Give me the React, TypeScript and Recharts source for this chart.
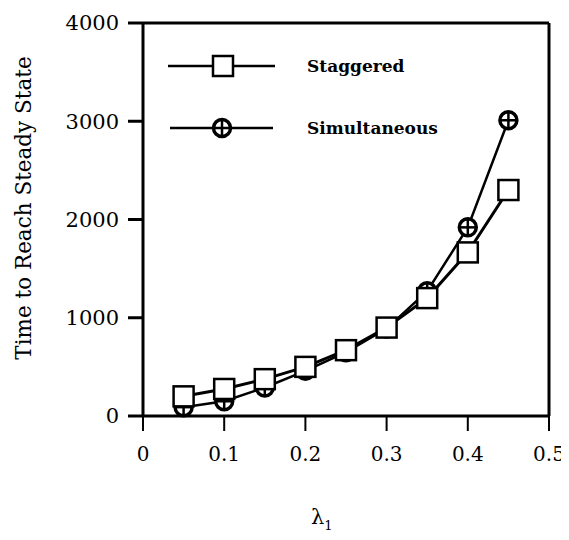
import React from 'react';
import { ComposedChart, Line, XAxis, YAxis, ReferenceLine, Customized } from 'recharts';

const lambdaValues = [0.05, 0.1, 0.15, 0.2, 0.25, 0.3, 0.35, 0.4, 0.45];
const staggered = [200, 275, 375, 500, 670, 900, 1200, 1665, 2300];
const simultaneous = [90, 150, 290, 460, 650, 890, 1270, 1920, 3010];
const xTicks = [0, 0.1, 0.2, 0.3, 0.4, 0.5];
const yTicks = [0, 1000, 2000, 3000, 4000];
const seriesNames = ['Staggered', 'Simultaneous'];

const data = lambdaValues.map((x, i) => ({ x, staggered: staggered[i], simultaneous: simultaneous[i] }));

const FONT = '"DejaVu Serif", "Liberation Serif", serif';

const SquareDot = (props: any) => {
  const { cx, cy } = props;
  if (cx == null || cy == null) return null;
  return <rect x={cx - 10} y={cy - 10} width={20} height={20} fill="#fff" stroke="#000" strokeWidth={2.5} />;
};

const CircleDot = (props: any) => {
  const { cx, cy } = props;
  if (cx == null || cy == null) return null;
  return (
    <g>
      <circle cx={cx} cy={cy} r={8.5} fill="#fff" stroke="#000" strokeWidth={3.5} />
      <line x1={cx - 8} y1={cy} x2={cx + 8} y2={cy} stroke="#000" strokeWidth={2.5} />
      <line x1={cx} y1={cy - 8} x2={cx} y2={cy + 8} stroke="#000" strokeWidth={2.5} />
    </g>
  );
};

const LegendBox = () => (
  <g transform="translate(160,40)">
    <line x1={0} y1={18} x2={107} y2={18} stroke="#000" strokeWidth={2.5} />
    <SquareDot cx={55} cy={18} />
    <text x={139} y={24} fontFamily={FONT} fontSize={17} fontWeight="bold" fill="#000">{seriesNames[0]}</text>
    <line x1={2} y1={80} x2={105} y2={80} stroke="#000" strokeWidth={2.5} />
    <CircleDot cx={54} cy={80} />
    <text x={139} y={86} fontFamily={FONT} fontSize={17} fontWeight="bold" fill="#000">{seriesNames[1]}</text>
  </g>
);

const XLabel = (props: any) => {
  const vb = props.viewBox || {};
  const cx = vb.x + vb.width / 2;
  return (
    <text x={cx - 35} y={516} fontFamily={FONT} fontSize={21} fill="#000">
      λ<tspan fontSize={13} dy={6}>1</tspan>
    </text>
  );
};

const YLabel = () => (
  <text x={0} y={0} transform="translate(15,200) rotate(-90)" textAnchor="middle" dominantBaseline="central" fontFamily={FONT} fontSize={21.5} fill="#000">
    Time to Reach Steady State
  </text>
);

export default function App() {
  return (
    <>
      <style>{'html,body{overflow:hidden} svg, svg.recharts-surface, .recharts-wrapper{overflow:visible !important}'}</style>
      <ComposedChart width={561} height={524} data={data} margin={{ top: 15, right: 20, left: 0, bottom: 0 }} style={{ overflow: 'visible' }}>
        <XAxis
          dataKey="x"
          type="number"
          domain={[0, 0.5]}
          ticks={xTicks}
          axisLine={{ stroke: '#000', strokeWidth: 3 }}
          tickLine={{ stroke: '#000', strokeWidth: 2 }}
          tickSize={15}
          tickMargin={16}
          tick={{ fill: '#000', fontFamily: FONT, fontSize: 20 }}
          height={116}
          label={<XLabel />}
        />
        <YAxis
          type="number"
          domain={[0, 4000]}
          ticks={yTicks}
          axisLine={{ stroke: '#000', strokeWidth: 3 }}
          tickLine={{ stroke: '#000', strokeWidth: 3 }}
          tickSize={15}
          tickMargin={9}
          tick={{ fill: '#000', fontFamily: FONT, fontSize: 21 }}
          width={135}
          label={<YLabel />}
        />
        <ReferenceLine y={4000} stroke="#000" strokeWidth={3} />
        <ReferenceLine x={0.5} stroke="#000" strokeWidth={3} />
        <Line
          dataKey="simultaneous"
          name={seriesNames[1]}
          stroke="#000"
          strokeWidth={2.5}
          dot={<CircleDot />}
          isAnimationActive={false}
        />
        <Line
          dataKey="staggered"
          name={seriesNames[0]}
          stroke="#000"
          strokeWidth={3}
          dot={<SquareDot />}
          isAnimationActive={false}
        />
        <Customized component={<LegendBox />} />
      </ComposedChart>
    </>
  );
}
